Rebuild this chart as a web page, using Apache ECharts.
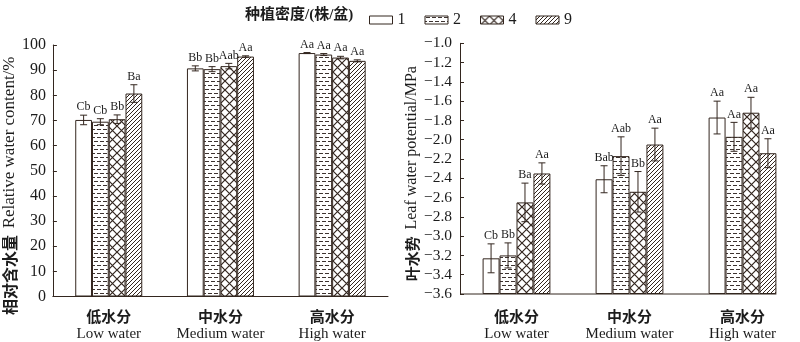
<!DOCTYPE html>
<html><head><meta charset="utf-8">
<script src="https://cdn.jsdelivr.net/npm/echarts@6/dist/echarts.min.js"></script>
<style>html,body{margin:0;padding:0;background:#fff}#c{width:800px;height:342px}</style>
</head><body><div id="c"></div>
<script>
// ---------- data ----------
const categoriesCN = ['低水分', '中水分', '高水分'];
const categoriesEN = ['Low water', 'Medium water', 'High water'];
const densities = ['1', '2', '4', '9'];
const legendTitle = '种植密度/(株/盆)';

// Relative water content (%)
const rwc1 = [70.2, 90.7, 96.8];
const rwc2 = [69.5, 90.4, 96.2];
const rwc4 = [70.5, 91.6, 95.0];
const rwc9 = [80.7, 95.4, 93.7];
const rwcErr1 = [1.9, 1.0, 0.2];
const rwcErr2 = [1.2, 1.0, 0.4];
const rwcErr4 = [1.7, 1.1, 0.5];
const rwcErr9 = [3.5, 0.3, 0.4];
const rwcSig1 = ['Cb', 'Bb', 'Aa'];
const rwcSig2 = ['Cb', 'Bb', 'Aa'];
const rwcSig4 = ['Bb', 'Aab', 'Aa'];
const rwcSig9 = ['Ba', 'Aa', 'Aa'];

// Leaf water potential (MPa)
const lwp1 = [-3.23, -2.41, -1.77];
const lwp2 = [-3.20, -2.17, -1.97];
const lwp4 = [-2.65, -2.54, -1.72];
const lwp9 = [-2.35, -2.05, -2.14];
const lwpErr1 = [0.15, 0.14, 0.17];
const lwpErr2 = [0.13, 0.20, 0.15];
const lwpErr4 = [0.20, 0.21, 0.16];
const lwpErr9 = [0.11, 0.17, 0.15];
const lwpSig1 = ['Cb', 'Bab', 'Aa'];
const lwpSig2 = ['Bb', 'Aab', 'Aa'];
const lwpSig4 = ['Ba', 'Bb', 'Aa'];
const lwpSig9 = ['Aa', 'Aa', 'Aa'];

const rwcTicks = {min: 0, max: 100, interval: 10};
const lwpTicks = {min: -3.6, max: -1.0, interval: 0.2};

// ---------- styling ----------
const DARK = '#33261f';
const TXT = '#1c1c1c';
const SERIF = "'Liberation Serif','Noto Sans CJK SC'";
const CJK = "'Noto Sans CJK SC'";

function mk(w, h, draw) {
  const c = document.createElement('canvas');
  c.width = w; c.height = h;
  const g = c.getContext('2d');
  g.fillStyle = '#fff'; g.fillRect(0, 0, w, h);
  draw(g);
  return {image: c, repeat: 'repeat'};
}
const patterns = [
  '#ffffff',
  mk(6, 8, g => { g.fillStyle = '#3d3330'; g.fillRect(1, 1, 4, 1); g.fillRect(4, 5, 2, 1); g.fillRect(0, 5, 2, 1); }),
  mk(9, 9, g => { g.strokeStyle = DARK; g.lineWidth = 1.2; g.beginPath();
    g.moveTo(0, 0); g.lineTo(9, 9); g.moveTo(9, 0); g.lineTo(0, 9); g.stroke(); }),
  mk(4, 4, g => { g.strokeStyle = DARK; g.lineWidth = 1; g.beginPath();
    g.moveTo(0, 4); g.lineTo(4, 0); g.moveTo(-1, 1); g.lineTo(1, -1); g.moveTo(3, 5); g.lineTo(5, 3); g.stroke(); })
];

const rwcVals = [rwc1, rwc2, rwc4, rwc9];
const rwcErrs = [rwcErr1, rwcErr2, rwcErr4, rwcErr9];
const rwcSigs = [rwcSig1, rwcSig2, rwcSig4, rwcSig9];
const lwpVals = [lwp1, lwp2, lwp4, lwp9];
const lwpErrs = [lwpErr1, lwpErr2, lwpErr4, lwpErr9];
const lwpSigs = [lwpSig1, lwpSig2, lwpSig4, lwpSig9];

const LWP_BASE = lwpTicks.min; // bars rise from the bottom of the axis
const shiftL = v => +(v - LWP_BASE).toFixed(4);

const xLabels = categoriesCN.map((c, i) => c + '|' + categoriesEN[i]);
const xLabelFmt = v => { const p = v.split('|'); return '{cn|' + p[0] + '}\n{en|' + p[1] + '}'; };
const xRich = {
  cn: {fontFamily: CJK, fontSize: 15, fontWeight: 'bold', lineHeight: 18, color: TXT},
  en: {fontFamily: 'Liberation Serif', fontSize: 15, lineHeight: 18, color: TXT}
};

function barSeries(idx, vals, transform) {
  return densities.map((d, s) => ({
    type: 'bar', name: d, xAxisIndex: idx, yAxisIndex: idx,
    data: vals[s].map(transform),
    barGap: '0%', barCategoryGap: '40%',
    itemStyle: {color: patterns[s], borderColor: DARK, borderWidth: 1},
    emphasis: {disabled: true}, silent: true
  }));
}

function errSeries(idx, vals, errs, sigs, transform) {
  const data = [], labels = [];
  for (let s = 0; s < 4; s++) for (let c = 0; c < 3; c++) {
    data.push([c, s, transform(vals[s][c]), errs[s][c]]);
    labels.push(sigs[s][c]);
  }
  return {
    type: 'custom', xAxisIndex: idx, yAxisIndex: idx, data, z: 10, silent: true,
    renderItem: (p, api) => {
      const c = api.value(0), s = api.value(1), v = api.value(2), e = api.value(3);
      const band = api.size([1, 0])[0];
      const bw = band * 0.6 / 4;
      const off = (s - 1.5) * bw;
      const pt = api.coord([c, v + e]), pb = api.coord([c, v - e]);
      const x = pt[0] + off;
      const ls = {stroke: DARK, lineWidth: 1};
      return {type: 'group', children: [
        {type: 'line', shape: {x1: x, y1: pt[1], x2: x, y2: pb[1]}, style: ls},
        {type: 'line', shape: {x1: x - 3.5, y1: pt[1], x2: x + 3.5, y2: pt[1]}, style: ls},
        {type: 'line', shape: {x1: x - 3.5, y1: pb[1], x2: x + 3.5, y2: pb[1]}, style: ls},
        {type: 'text', x: x, y: pt[1] - 2, style: {text: labels[p.dataIndex], align: 'center', verticalAlign: 'bottom',
          font: "12px 'Liberation Serif'", fill: TXT}}
      ]};
    }
  };
}

const yAxisCommon = {
  type: 'value', splitLine: {show: false},
  axisLine: {show: true, lineStyle: {color: DARK, width: 1}},
  axisTick: {show: true, inside: true, length: 4, lineStyle: {color: DARK}},
  axisLabel: {fontFamily: 'Liberation Serif', fontSize: 16, color: TXT, margin: 7},
  nameLocation: 'middle', nameRotate: 90
};

const chart = echarts.init(document.getElementById('c'), null, {renderer: 'canvas'});
const option = {
  animation: false,
  backgroundColor: '#fff',
  title: {text: legendTitle, left: 240, top: 3,
    textStyle: {fontFamily: SERIF, fontSize: 15, fontWeight: 'bold', color: TXT}},
  legend: {data: densities, left: 364, top: 7, itemWidth: 23, itemHeight: 8, itemGap: 19, icon: 'rect',
    itemStyle: {borderColor: DARK, borderWidth: 1},
    textStyle: {fontFamily: 'Liberation Serif', fontSize: 16, color: TXT}},
  grid: [
    {left: 49, width: 339, top: 45, bottom: 45.3},
    {left: 460, width: 339, top: 43.3, bottom: 48}
  ],
  xAxis: [
    {type: 'category', gridIndex: 0, data: xLabels,
      axisLine: {show: true, lineStyle: {color: DARK}}, axisTick: {show: false},
      axisLabel: {formatter: xLabelFmt, rich: xRich, margin: 11, interval: 0}},
    {type: 'category', gridIndex: 1, data: xLabels,
      axisLine: {show: false}, axisTick: {show: false},
      axisLabel: {formatter: xLabelFmt, rich: xRich, margin: 13.5, interval: 0}}
  ],
  yAxis: [
    Object.assign({}, yAxisCommon, {gridIndex: 0, min: rwcTicks.min, max: rwcTicks.max, interval: rwcTicks.interval,
      name: '{cn|相对含水量}  {en|Relative water content/%}', nameGap: 27,
      nameTextStyle: {color: TXT, padding: [0, 30, 0, 0], rich: {
        cn: {fontFamily: CJK, fontSize: 16, fontWeight: 'bold', color: TXT},
        en: {fontFamily: 'Liberation Serif', fontSize: 17, color: TXT}}}}),
    Object.assign({}, yAxisCommon, {gridIndex: 1, min: 0, max: shiftL(lwpTicks.max), interval: lwpTicks.interval,
      axisLabel: Object.assign({}, yAxisCommon.axisLabel, {fontSize: 15.5, margin: 8,
        formatter: v => { const r = v + LWP_BASE; return (r < -1e-9 ? '\u2212' : '') + Math.abs(r).toFixed(1); }}),
      name: '{cn|叶水势}  {en|Leaf water potential/MPa}', nameGap: 37,
      nameTextStyle: {color: TXT, padding: [0, 10, 0, 0], rich: {
        cn: {fontFamily: CJK, fontSize: 15, fontWeight: 'bold', color: TXT},
        en: {fontFamily: 'Liberation Serif', fontSize: 16, color: TXT}}}})
  ],
  series: [].concat(
    barSeries(0, rwcVals, v => v),
    barSeries(1, lwpVals, shiftL),
    [errSeries(0, rwcVals, rwcErrs, rwcSigs, v => v),
     errSeries(1, lwpVals, lwpErrs, lwpSigs, shiftL)]
  )
};
chart.setOption(option);

// bottom axis line of the right panel (the original is cut just after the last bar group)
const c0 = chart.convertToPixel({xAxisIndex: 1}, 0);
const c2 = chart.convertToPixel({xAxisIndex: 1}, 2);
const band = (c2 - c0) / 2;
const yb = chart.convertToPixel({yAxisIndex: 1}, 0);
chart.setOption({graphic: [{type: 'line', z: 5, shape: {x1: c0 - band / 2, y1: yb, x2: c2 + band * 0.3, y2: yb},
  style: {stroke: DARK, lineWidth: 1}}]});
</script></body></html>
